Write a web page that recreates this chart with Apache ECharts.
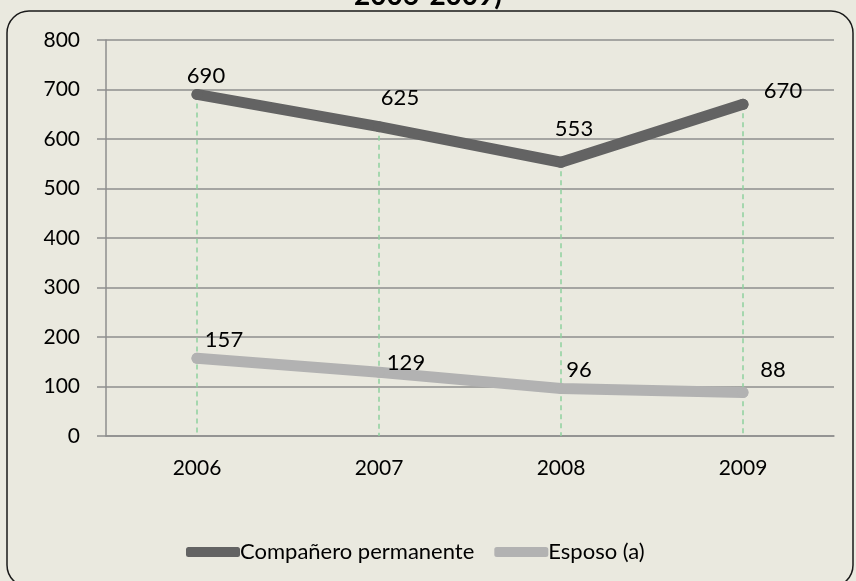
<!DOCTYPE html>
<html>
<head>
<meta charset="utf-8">
<script src="https://cdn.jsdelivr.net/npm/echarts@6/dist/echarts.min.js"></script>
<style>
html,body{margin:0;padding:0;background:#eae9df;}
#chart_main{width:856px;height:581px;}
</style>
</head>
<body>
<div id="chart_main"></div>
<script type="text/javascript">
// datos
var years = ['2006', '2007', '2008', '2009'];
var companero = [690, 625, 553, 670];
var esposo = [157, 129, 96, 88];
var yTicks = [0, 100, 200, 300, 400, 500, 600, 700, 800];
var names = ['Compañero permanente', 'Esposo (a)'];

// desplazamiento de las etiquetas (como en el original)
var offCompanero = [[9, 3], [21, -7], [13, -12], [40, 8]];
var offEsposo = [[27, 3], [27, 12], [18, 3], [30, -1]];

var FONT = 'Lato';

function buildData(vals, offs){
	var out = [];
	for(var i = 0; i < vals.length; i++){
		out.push({value: vals[i], label: {offset: offs[i]}});
	}
	return out;
}

function dropLines(vals){
	var out = [];
	for(var i = 0; i < vals.length; i++){
		out.push([{coord: [i, vals[i]]}, {coord: [i, 0]}]);
	}
	return out;
}

var myChart = echarts.init(document.getElementById('chart_main'));
var labelStyle = {show: true, position: 'top', distance: 5, color: '#000', fontFamily: FONT, fontSize: 22};

var option = {
	backgroundColor: '#eae9df',
	animation: false,
	title: {
		text: '2006-2009)',
		left: 'center',
		top: -18,
		padding: 0,
		textStyle: {fontFamily: FONT, fontSize: 28, fontWeight: 'bold', color: '#000'}
	},
	graphic: [{
		type: 'rect',
		z: -1,
		shape: {x: 7, y: 11, width: 846, height: 576, r: 22},
		style: {fill: 'none', stroke: '#1a1a1a', lineWidth: 1.5}
	}],
	grid: {left: 106, right: 22, top: 40, bottom: 145},
	legend: {
		data: names,
		left: 181,
		top: 536,
		itemWidth: 54,
		itemHeight: 10,
		itemGap: 20,
		icon: 'roundRect',
		textStyle: {fontFamily: FONT, fontSize: 22, color: '#000', padding: [0, 0, 0, -5]}
	},
	xAxis: {
		type: 'category',
		data: years,
		axisLine: {lineStyle: {color: '#8e8e8e', width: 1.5}},
		axisTick: {show: false},
		axisLabel: {color: '#000', fontFamily: FONT, fontSize: 21, margin: 22}
	},
	yAxis: {
		type: 'value',
		min: yTicks[0],
		max: yTicks[yTicks.length - 1],
		interval: 100,
		axisLine: {show: true, lineStyle: {color: '#8e8e8e', width: 1.5}},
		axisTick: {show: true, length: 9, lineStyle: {color: '#8e8e8e', width: 1.5}},
		splitLine: {lineStyle: {color: '#8e8e8e', width: 1.5}},
		axisLabel: {color: '#000', fontFamily: FONT, fontSize: 21, margin: 26}
	},
	series: [{
		name: names[0],
		type: 'line',
		data: buildData(companero, offCompanero),
		symbol: 'circle',
		symbolSize: 11,
		showSymbol: true,
		color: '#636363',
		itemStyle: {color: '#636363'},
		lineStyle: {width: 11, color: '#636363', cap: 'round', join: 'round'},
		label: labelStyle,
		z: 3,
		markLine: {
			silent: true,
			symbol: 'none',
			label: {show: false},
			lineStyle: {color: '#8fd19e', type: [5, 4], width: 1.5, opacity: 1},
			data: dropLines(companero),
			z: 1
		}
	}, {
		name: names[1],
		type: 'line',
		data: buildData(esposo, offEsposo),
		symbol: 'circle',
		symbolSize: 11,
		showSymbol: true,
		color: '#b2b2b2',
		itemStyle: {color: '#b2b2b2'},
		lineStyle: {width: 11, color: '#b2b2b2', cap: 'round', join: 'round'},
		label: labelStyle,
		z: 2
	}]
};
myChart.setOption(option);
</script>
</body>
</html>
